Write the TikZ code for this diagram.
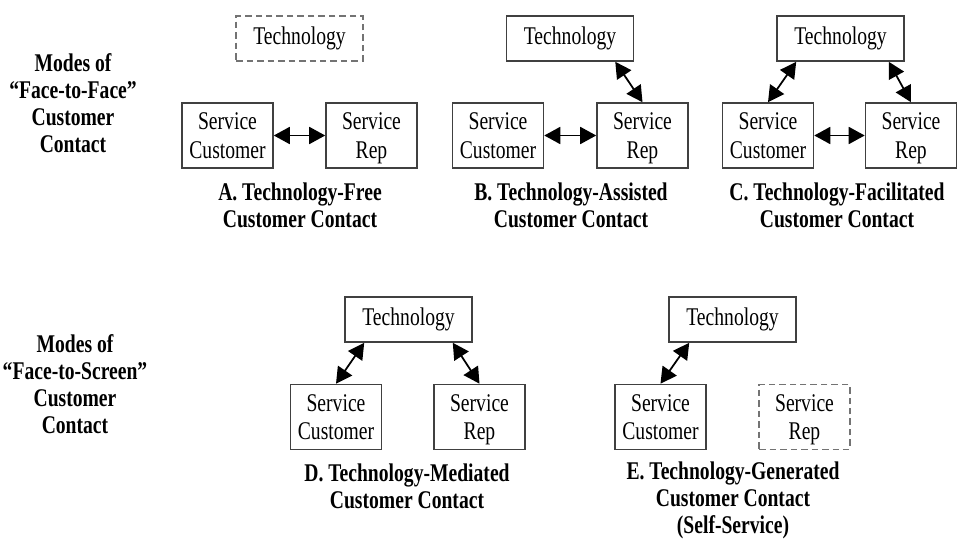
\documentclass[tikz,border=0pt]{standalone}
\usepackage{fontspec}
\setmainfont{Liberation Serif}[FakeStretch=0.77]
\usetikzlibrary{arrows.meta}
\newcommand{\twoline}[2]{#1\\\raisebox{0pt}[\height][0pt]{#2}}

\begin{document}
\begin{tikzpicture}[x=0.02cm, y=-0.02cm,
  box/.style={draw=black!75, line width=0.9pt, inner sep=0pt, align=center,
    minimum width=1.82cm, minimum height=1.3cm,
    font=\fontsize{14.5}{16.4}\selectfont},
  techbox/.style={box, minimum width=2.54cm, minimum height=0.9cm},
  ghost/.style={draw=black!55, dash pattern=on 0.13cm off 0.08cm},
  lab/.style={align=center, font=\bfseries\fontsize{14.5}{15.4}\selectfont},
  link/.style={{Triangle[length=0.32cm,width=0.34cm]}-{Triangle[length=0.32cm,width=0.34cm]}, line width=1pt}]
  \useasboundingbox (0,0) rectangle (958,541);

  \node[lab] (m1) at (73, 103) {Modes of\\``Face-to-Face''\\Customer\\Contact};
  \node[lab] (m2) at (75, 384) {Modes of\\``Face-to-Screen''\\Customer\\Contact};

  % A
  \node[techbox, ghost] (ta) at (299.5, 38.5) {Technology};
  \node[box] (ca) at (227.5, 135.5) {\twoline{Service}{Customer}};
  \node[box] (ra) at (371.5, 135.5) {\twoline{Service}{Rep}};
  \node[lab] (la) at (300, 205) {A. Technology-Free\\Customer Contact};

  % B
  \node[techbox] (tb) at (570, 38.5) {Technology};
  \node[box] (cb) at (498, 135.5) {\twoline{Service}{Customer}};
  \node[box] (rb) at (642.5, 135.5) {\twoline{Service}{Rep}};
  \node[lab] (lb) at (571, 205) {B. Technology-Assisted\\Customer Contact};

  % C
  \node[techbox] (tc) at (840.5, 38.5) {Technology};
  \node[box] (cc) at (768, 135.5) {\twoline{Service}{Customer}};
  \node[box] (rc) at (911, 135.5) {\twoline{Service}{Rep}};
  \node[lab] (lc) at (837, 205) {C. Technology-Facilitated\\Customer Contact};

  % D
  \node[techbox] (td) at (408.5, 319.5) {Technology};
  \node[box] (cd) at (336, 417) {\twoline{Service}{Customer}};
  \node[box] (rd) at (479.5, 417) {\twoline{Service}{Rep}};
  \node[lab] (ld) at (407, 486) {D. Technology-Mediated\\Customer Contact};

  % E
  \node[techbox] (te) at (732.5, 319.5) {Technology};
  \node[box] (ce) at (660.5, 417) {\twoline{Service}{Customer}};
  \node[box, ghost] (re) at (804.5, 417) {\twoline{Service}{Rep}};
  \node[lab] (le) at (733, 500) {E. Technology-Generated\\Customer Contact\\(Self-Service)};

  \draw [link] (ca) to (ra);
  \draw [link] (cb) to (rb);
  \draw [link] ([xshift=-0.38cm]tb.south east) to (rb.north);
  \draw [link] (cc) to (rc);
  \draw [link] ([xshift=0.4cm]tc.south west) to (cc.north);
  \draw [link] ([xshift=-0.32cm]tc.south east) to (rc.north);
  \draw [link] ([xshift=0.4cm]td.south west) to (cd.north);
  \draw [link] ([xshift=-0.4cm]td.south east) to (rd.north);
  \draw [link] ([xshift=0.42cm]te.south west) to (ce.north);
\end{tikzpicture}
\end{document}
